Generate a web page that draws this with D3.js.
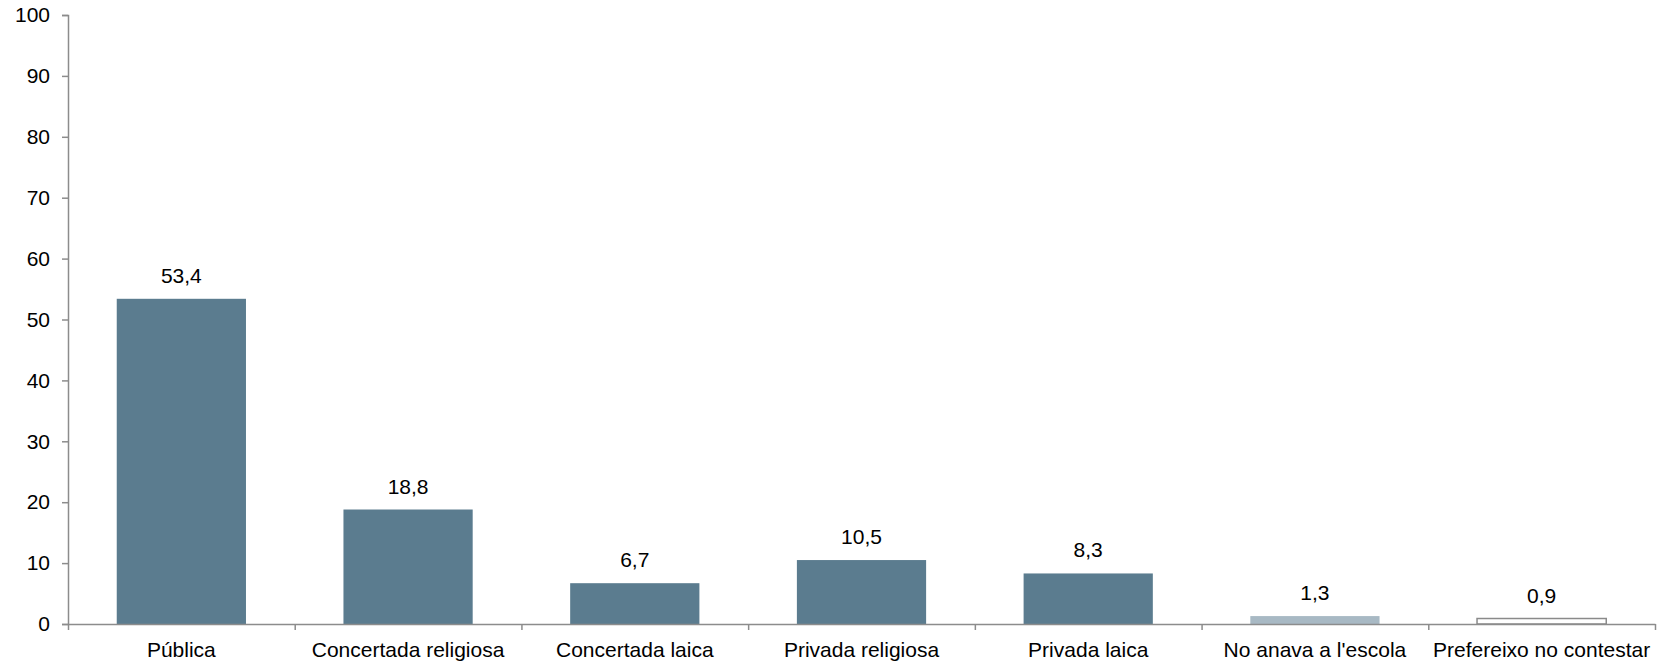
<!DOCTYPE html>
<html>
<head>
<meta charset="utf-8">
<script src="https://cdn.jsdelivr.net/npm/d3@7"></script>
<style>
  html, body { margin: 0; padding: 0; background: #ffffff; }
  svg { display: block; font-family: "Liberation Sans", Arial, sans-serif; }
</style>
</head>
<body>
<svg id="chart" width="1668" height="664"></svg>
<script>
const categories = ["Pública", "Concertada religiosa", "Concertada laica", "Privada religiosa", "Privada laica", "No anava a l'escola", "Prefereixo no contestar"];
const values = [53.4, 18.8, 6.7, 10.5, 8.3, 1.3, 0.9];
const valueLabels = ["53,4", "18,8", "6,7", "10,5", "8,3", "1,3", "0,9"];
const yTicks = [0, 10, 20, 30, 40, 50, 60, 70, 80, 90, 100];
const barFills = ["#5b7c8f", "#5b7c8f", "#5b7c8f", "#5b7c8f", "#5b7c8f", "#a8b9c4", "#ffffff"];
const barStrokes = ["none", "none", "none", "none", "none", "none", "#8a8a8a"];

const svg = d3.select("#chart");
const mLeft = 68, mRight = 1655, mTop = 15, mBottom = 624;
const axisColor = "#8c8c8c";
const fontSize = 21;

const x = d3.scaleBand().domain(categories).range([mLeft, mRight]).padding(0);
const y = d3.scaleLinear().domain([0, 100]).range([mBottom, mTop]);
const barW = x.bandwidth() * 0.57;

// bars
svg.append("g").selectAll("rect").data(categories).join("rect")
  .attr("x", (d) => x(d) + (x.bandwidth() - barW) / 2)
  .attr("y", (d, i) => y(values[i]))
  .attr("width", barW)
  .attr("height", (d, i) => y(0) - y(values[i]))
  .attr("fill", (d, i) => barFills[i])
  .attr("stroke", (d, i) => barStrokes[i])
  .attr("stroke-width", 1.5);

// value labels
svg.append("g").selectAll("text").data(categories).join("text")
  .attr("x", (d) => x(d) + x.bandwidth() / 2)
  .attr("y", (d, i) => y(values[i]) - 16)
  .attr("text-anchor", "middle")
  .attr("font-size", fontSize)
  .attr("fill", "#000")
  .text((d, i) => valueLabels[i]);

// y axis
const yAxis = svg.append("g").attr("transform", `translate(${mLeft},0)`)
  .call(d3.axisLeft(y).tickValues(yTicks).tickSize(6).tickPadding(12).tickFormat(d3.format("d")));
yAxis.selectAll("path, line").attr("stroke", axisColor).attr("stroke-width", 1.5);
yAxis.selectAll("text").attr("font-size", fontSize).attr("fill", "#000")
  .attr("font-family", '"Liberation Sans", Arial, sans-serif');

// x axis: boundary ticks
const bounds = d3.scaleLinear().domain([0, categories.length]).range([mLeft, mRight]);
const xAxis = svg.append("g").attr("transform", `translate(0,${mBottom})`)
  .call(d3.axisBottom(bounds).tickValues(d3.range(categories.length + 1)).tickSize(6).tickSizeOuter(0).tickFormat(""));
xAxis.selectAll("path, line").attr("stroke", axisColor).attr("stroke-width", 1.5);

// x category labels
const xLab = svg.append("g").attr("transform", `translate(0,${mBottom})`)
  .call(d3.axisBottom(x).tickSize(0).tickPadding(18));
xLab.select(".domain").remove();
xLab.selectAll("text").attr("font-size", fontSize).attr("fill", "#000")
  .attr("font-family", '"Liberation Sans", Arial, sans-serif');
</script>
</body>
</html>
